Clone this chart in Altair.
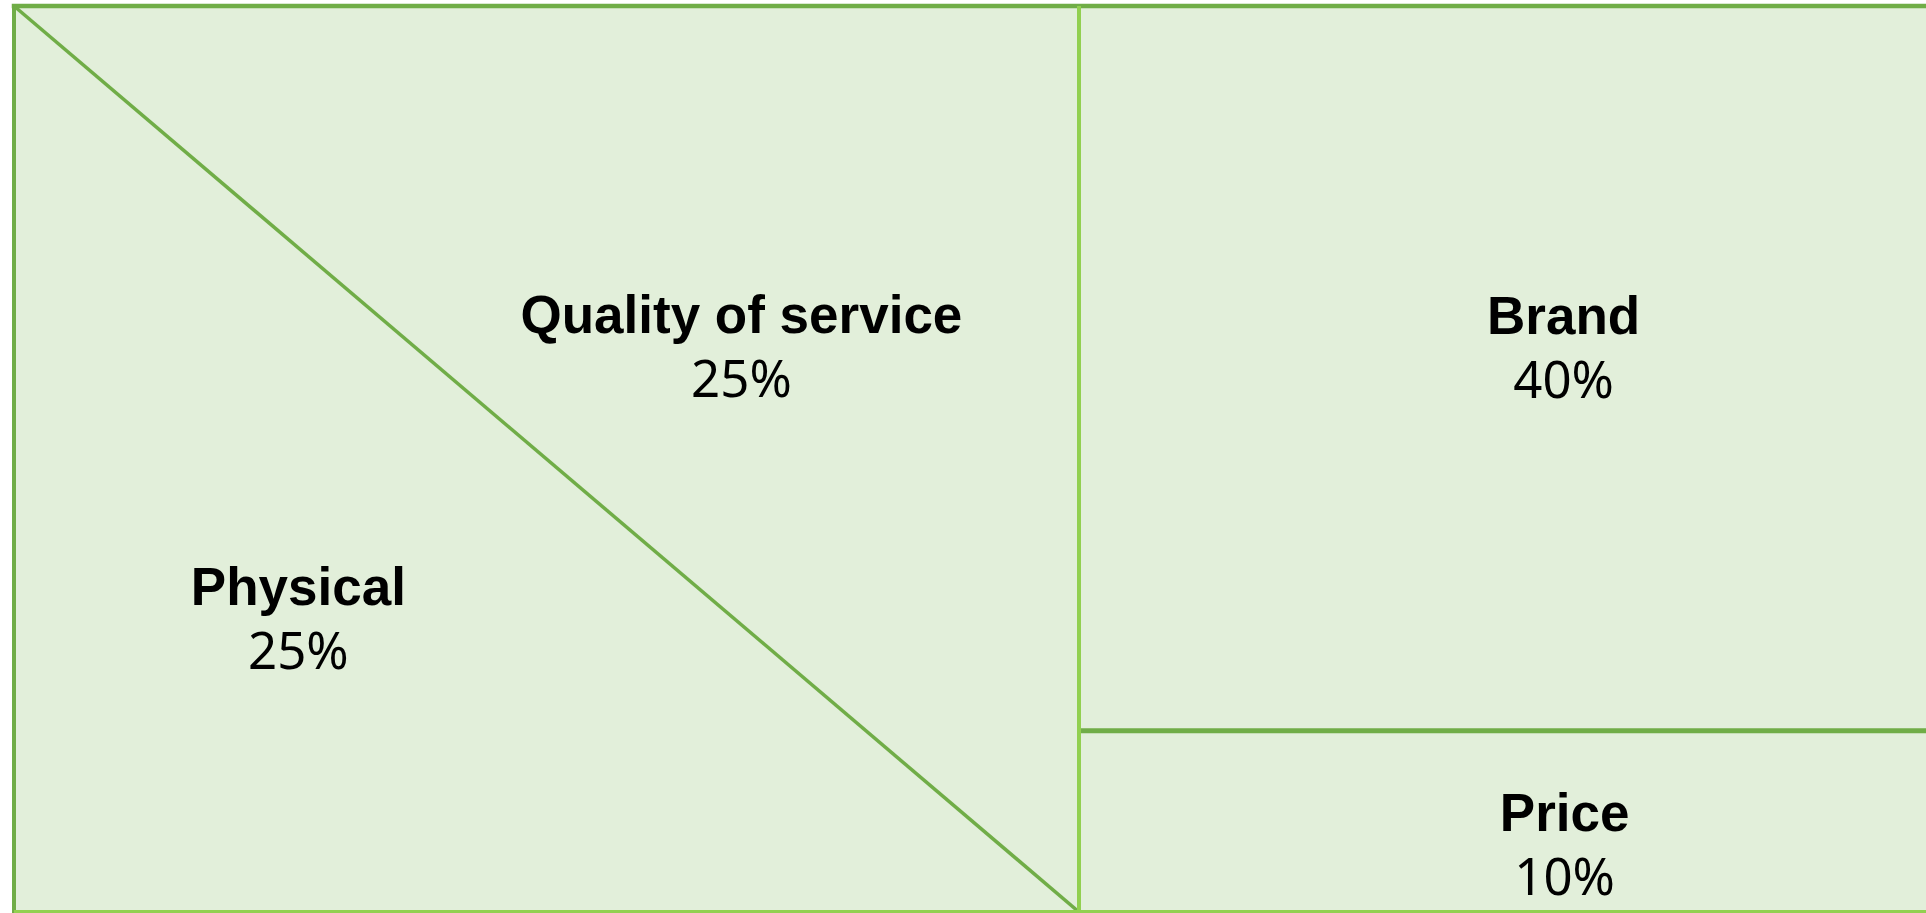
import altair as alt
import pandas as pd

# ---------------- data ----------------
categories = ["Physical", "Quality of service", "Brand", "Price"]
shares = [25, 25, 40, 10]

# ---------------- layout (derived from the shares) ----------------
W, H = 1926, 913
share = dict(zip(categories, shares))
left_w = (share["Physical"] + share["Quality of service"]) / 100.0   # width of left column (units of frame width)
split_v = share["Price"] / (share["Brand"] + share["Price"])          # height of Price cell in right column

# visible window of the frame (frame is cropped on the right/bottom)
px_left, px_col, px_top, px_bottom = 14, 1079, 6, 912
ppu_x = (px_col - px_left) / left_w
ppu_y = (px_bottom - px_top) / 1.0
X_DOMAIN = [-px_left / ppu_x, (W - px_left) / ppu_x]
Y_DOMAIN = [-(H - px_bottom) / ppu_y, 1 + px_top / ppu_y]

xs = alt.Scale(domain=X_DOMAIN, range=[0, W], nice=False, zero=False)
ys = alt.Scale(domain=Y_DOMAIN, range=[H, 0], nice=False, zero=False)

FILL = "#E2EFDA"
DARK = "#70AD47"
BRIGHT = "#92D050"

# region bounding boxes
bounds = {
    "Physical": (0.0, left_w, 0.0, 1.0),
    "Quality of service": (0.0, left_w, 0.0, 1.0),
    "Brand": (left_w, 1.0, split_v, 1.0),
    "Price": (left_w, 1.0, 0.0, split_v),
}
# label anchor as fraction of region bounding box
label_frac = {
    "Physical": (0.267, 0.339),
    "Quality of service": (0.683, 0.639),
    "Brand": (0.455, 0.548),
    "Price": (0.456, 0.445),
}

# ---------------- cells ----------------
rects = pd.DataFrame([
    {"cat": c, "x": bounds[c][0], "x2": bounds[c][1], "y": bounds[c][2], "y2": bounds[c][3]}
    for c in ["Brand", "Price"]
])
tri_phys = pd.DataFrame({"x": [0.0, left_w], "y": [1.0, 0.0], "y2": [0.0, 0.0]})
tri_qual = pd.DataFrame({"x": [0.0, left_w], "y": [1.0, 0.0], "y2": [1.0, 1.0]})

enc_x = lambda f: alt.X(f, type="quantitative", scale=xs, axis=None)
enc_y = lambda f: alt.Y(f, type="quantitative", scale=ys, axis=None)

cells = alt.Chart(rects).mark_rect(fill=FILL, opacity=1, clip=True).encode(
    x=enc_x("x"), x2="x2", y=enc_y("y"), y2="y2"
)
phys = alt.Chart(tri_phys).mark_area(fill=FILL, opacity=1, clip=True).encode(
    x=enc_x("x"), y=enc_y("y"), y2="y2"
)
qual = alt.Chart(tri_qual).mark_area(fill=FILL, opacity=1, clip=True).encode(
    x=enc_x("x"), y=enc_y("y"), y2="y2"
)

# ---------------- lines ----------------
def seg(rows):
    return pd.DataFrame(rows, columns=["x", "y", "x2", "y2"])

def rule(df, color, width, cap="butt"):
    return alt.Chart(df).mark_rule(color=color, strokeWidth=width, strokeCap=cap, clip=True).encode(
        x=enc_x("x"), y=enc_y("y"), x2="x2", y2="y2"
    )

top_border = rule(seg([(0.0, 1.0, 1.0, 1.0)]), DARK, 4.5, "square")
left_border = rule(seg([(0.0, 0.0, 0.0, 1.0)]), DARK, 4, "square")
h_div = rule(seg([(left_w, split_v, 1.0, split_v)]), DARK, 5)
diag = rule(seg([(0.0, 1.0, left_w, 0.0)]), DARK, 3.5)
v_div = rule(seg([(left_w, 0.0, left_w, 1.0)]), BRIGHT, 4)
bottom = rule(seg([(0.0, 0.0, 1.0, 0.0)]), BRIGHT, 4)

# ---------------- labels ----------------
lab_rows = []
for c, s in zip(categories, shares):
    x0, x1, y0, y1 = bounds[c]
    fx, fy = label_frac[c]
    lab_rows.append({"name": c, "pct": f"{s}%", "x": x0 + fx * (x1 - x0), "y": y0 + fy * (y1 - y0)})
labels = pd.DataFrame(lab_rows)

names = alt.Chart(labels).mark_text(
    font="Liberation Sans", fontWeight="bold", fontSize=53, color="#000000",
    align="center", baseline="alphabetic"
).encode(x=enc_x("x"), y=enc_y("y"), text="name:N")

pcts = alt.Chart(labels).mark_text(
    font="Noto Sans", fontSize=51, color="#000000",
    align="center", baseline="alphabetic", dy=64
).encode(x=enc_x("x"), y=enc_y("y"), text="pct:N")

chart = alt.layer(
    cells, phys, qual, top_border, left_border, h_div, diag, v_div, bottom, names, pcts
).properties(
    width=W, height=H, padding=0, autosize=alt.AutoSizeParams(type="none"),
    background="#FFFFFF"
).configure_view(stroke=None)

chart.save("out.html", embed_options={"renderer": "svg", "actions": False})
